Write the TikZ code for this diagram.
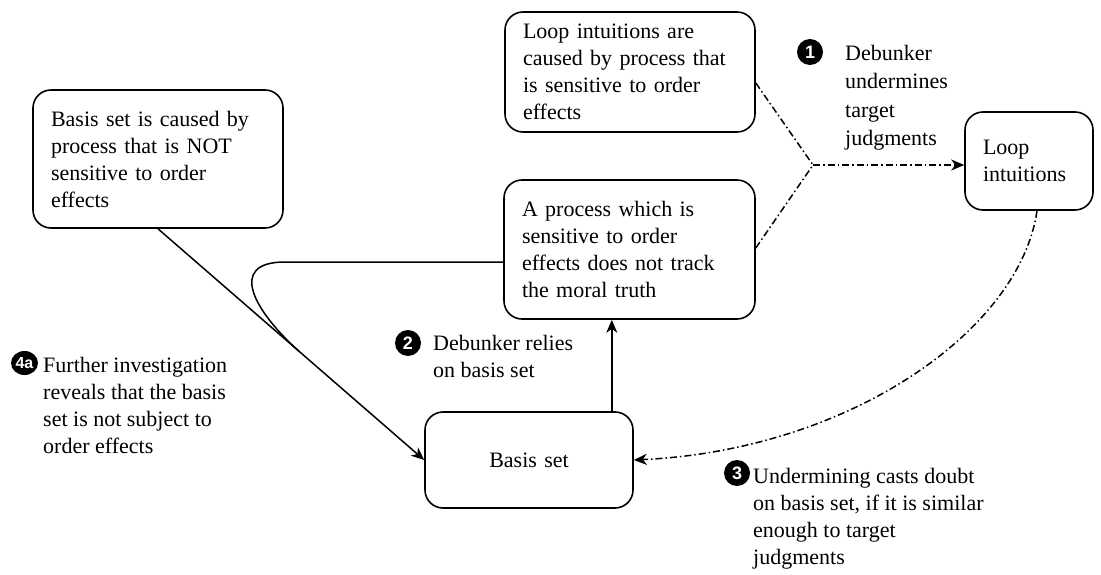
\documentclass[tikz,border=0pt]{standalone}
\usepackage{fontspec}
\setmainfont{Liberation Serif}
\newfontfamily\numfont{Liberation Sans}
\usetikzlibrary{arrows.meta,calc,shapes.geometric}
\begin{document}
\begin{tikzpicture}[x=1pt,y=-1pt,
  every node/.style={font=\fontsize{22}{27}\selectfont},
  box/.style={draw, line width=1.6pt, rounded corners=18pt, inner xsep=18pt,
    inner ysep=0pt, text width=#1, align=left},
  % multi-line labels are placed by the baseline of their last line
  lbl/.style={anchor=base west, inner sep=0pt, align=left},
  num/.style={circle, fill=black, text=white, inner sep=0pt, minimum size=26pt,
    font=\numfont\bfseries\fontsize{18}{18}\selectfont},
  numwide/.style={ellipse, fill=black, text=white, inner sep=0pt,
    minimum width=27pt, minimum height=24pt,
    font=\numfont\bfseries\fontsize{16}{16}\selectfont},
  conn/.style={line width=1.5pt},
  dd/.style={line width=1.5pt, dash pattern=on 7pt off 3pt on 1.5pt off 3pt},
  tip/.style={-{Stealth[length=13pt,width=11pt,inset=4pt]}}
]
\useasboundingbox (0,0) rectangle (1101,575);

% boxes
\node[box=214pt, minimum height=138pt] (A) at (158,159)
  {Basis set is caused by\\ process that is NOT\\ sensitive to order\\ effects};
\node[box=214pt, minimum height=120pt] (B) at (630,72)
  {Loop intuitions are\\ caused by process that\\ is sensitive to order\\ effects};
\node[box=215pt, minimum height=139pt] (C) at (629.5,249.5)
  {A process which is\\ sensitive to order\\ effects does not track\\ the moral truth};
\node[box=92pt, minimum height=98pt] (D) at (1029,161)
  {Loop\\ intuitions};
\node[box=172pt, minimum height=96pt, align=center] (E) at (529,460)
  {Basis set};

% step labels
\node[num] (n1) at (810,52) {1};
\node[lbl, font=\fontsize{22}{28.5}\selectfont] (t1) at (845,146)
  {Debunker\\ undermines\\ target\\ judgments};
\node[num] (n2) at (408,343) {2};
\node[lbl] (t2) at (433,377) {Debunker relies\\ on basis set};
\node[num] (n3) at (737,473) {3};
\node[lbl] (t3) at (753,564)
  {Undermining casts doubt\\ on basis set, if it is similar\\ enough to target\\ judgments};
\node[numwide] (n4) at (24.5,363) {4a};
\node[lbl] (t4) at (43,453)
  {Further investigation\\ reveals that the basis\\ set is not subject to\\ order effects};

% debunking arguments merging into the target
\coordinate (J) at (813,165);
\draw[dd] ([yshift=-11pt]B.east) -- (J);
\draw[dd] ([yshift=1.5pt]C.east) -- (J);
\draw[dd, tip] (J) -- (J -| D.west);

% undermining spreads back to the basis set
\draw[dd, tip] ([xshift=8pt]D.south) .. controls (1020,330) and (850,450) .. (E.east);

% reliance of the debunker on the basis set
\draw[conn, tip] ([xshift=-22pt]E.north east) -- ([xshift=-22pt]E.north east |- C.south);

% further investigation
\coordinate (M) at ($(A.south)!0.53!(E.west)$);
\draw[conn, tip] (A.south) -- (E.west);
\draw[conn] ([yshift=-12.5pt]C.west) -- (285,262)
  .. controls (226,262) and (255,312) .. (M);
\end{tikzpicture}
\end{document}
